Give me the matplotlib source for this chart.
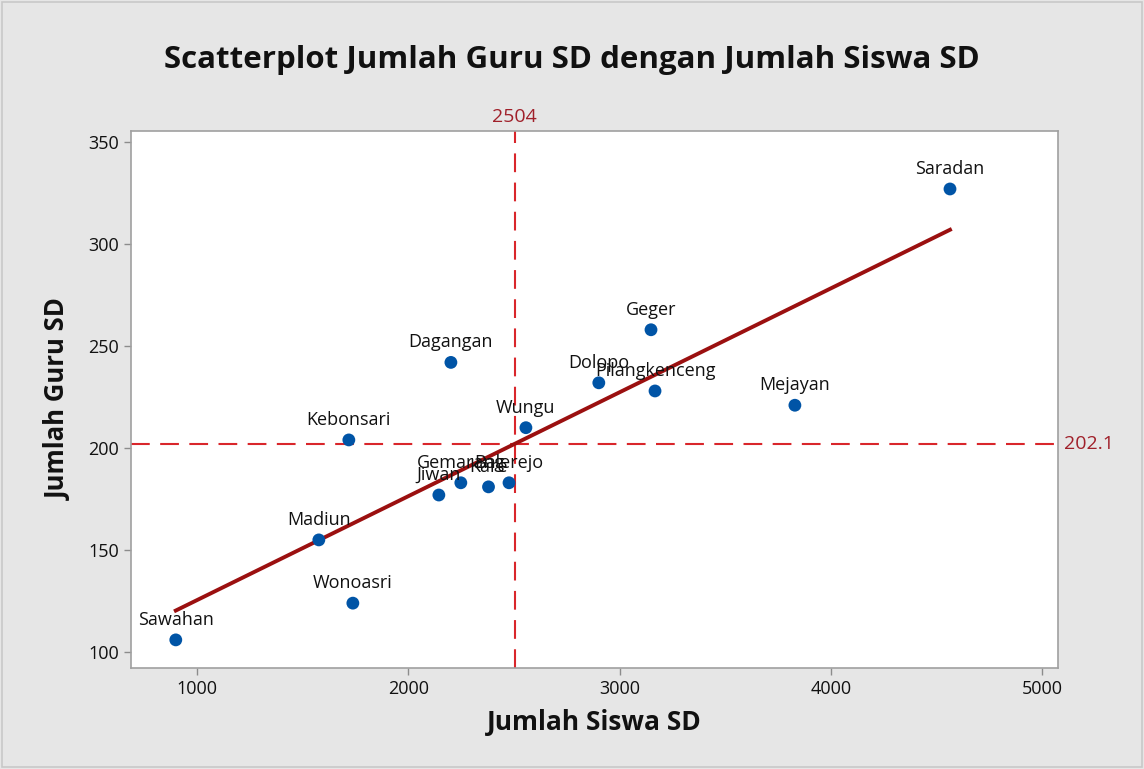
import matplotlib
matplotlib.use("Agg")
import matplotlib.pyplot as plt
import numpy as np
from matplotlib.patches import Rectangle

names = ["Sawahan", "Madiun", "Wonoasri", "Kebonsari", "Jiwan", "Gemarang", "Kare",
         "Balerejo", "Dagangan", "Wungu", "Dolopo", "Geger", "Pilangkenceng", "Mejayan", "Saradan"]
siswa = [900, 1577, 1738, 1719, 2145, 2249, 2380, 2477, 2202, 2557, 2902, 3149, 3168, 3830, 4564]
guru = [106, 155, 124, 204, 177, 183, 181, 183, 242, 210, 232, 258, 228, 221, 327]
mean_x_label = "2504"
mean_y_label = "202.1"

plt.rcParams['font.family'] = ['Open Sans', 'DejaVu Sans']

fig = plt.figure(figsize=(11.44, 7.69), dpi=100, facecolor="#E6E6E6")
fig.patches.append(Rectangle((0.002, 0.002), 0.996, 0.996, transform=fig.transFigure,
                             fill=False, edgecolor="#C8C8C8", linewidth=1.2))
ax = fig.add_axes([0.1145, 0.1313, 0.8103, 0.6983])
ax.set_facecolor("white")

x = np.array(siswa, dtype=float)
y = np.array(guru, dtype=float)
mx, my = x.mean(), y.mean()

ax.axvline(mx, color="#D9262B", linestyle=(0, (9, 5)), linewidth=1.5, zorder=1)
ax.axhline(my, color="#D9262B", linestyle=(0, (9, 5)), linewidth=1.5, zorder=1)

b, a = np.polyfit(x, y, 1)
xl = np.array([x.min(), x.max()])
ax.plot(xl, a + b * xl, color="#9B1010", linewidth=2.8, zorder=2)

ax.scatter(x, y, s=85, color="#0054A6", zorder=3, edgecolors="none")
for n, xi, yi in zip(names, x, y):
    ax.annotate(n, (xi, yi), xytext=(0, 8), textcoords="offset points",
                ha="center", va="bottom", fontsize=13, color="#111111", zorder=4)

ax.set_xlim(688, 5075)
ax.set_ylim(92.2, 355.4)
ax.set_xticks([1000, 2000, 3000, 4000, 5000])
ax.set_yticks([100, 150, 200, 250, 300, 350])
ax.tick_params(axis="both", labelsize=13, colors="#8C8C8C", labelcolor="#111111",
               length=5, width=1, direction="out")
for s in ax.spines.values():
    s.set_color("#A0A0A0")
    s.set_linewidth(1.2)

ax.text(mx, 1.01, mean_x_label, transform=ax.get_xaxis_transform(), ha="center",
        va="bottom", fontsize=14, color="#A0202A")
ax.text(1.006, my, mean_y_label, transform=ax.get_yaxis_transform(), ha="left",
        va="center", fontsize=14, color="#A0202A")

ax.set_xlabel("Jumlah Siswa SD", fontsize=19, fontweight="bold", color="#111111", labelpad=8)
ax.set_ylabel("Jumlah Guru SD", fontsize=18.5, fontweight="bold", color="#111111", labelpad=12)
fig.text(0.5, 0.922, "Scatterplot Jumlah Guru SD dengan Jumlah Siswa SD", ha="center",
         va="center", fontsize=22.5, fontweight="bold", color="#111111")

fig.savefig("out.png", dpi=100, facecolor=fig.get_facecolor())
